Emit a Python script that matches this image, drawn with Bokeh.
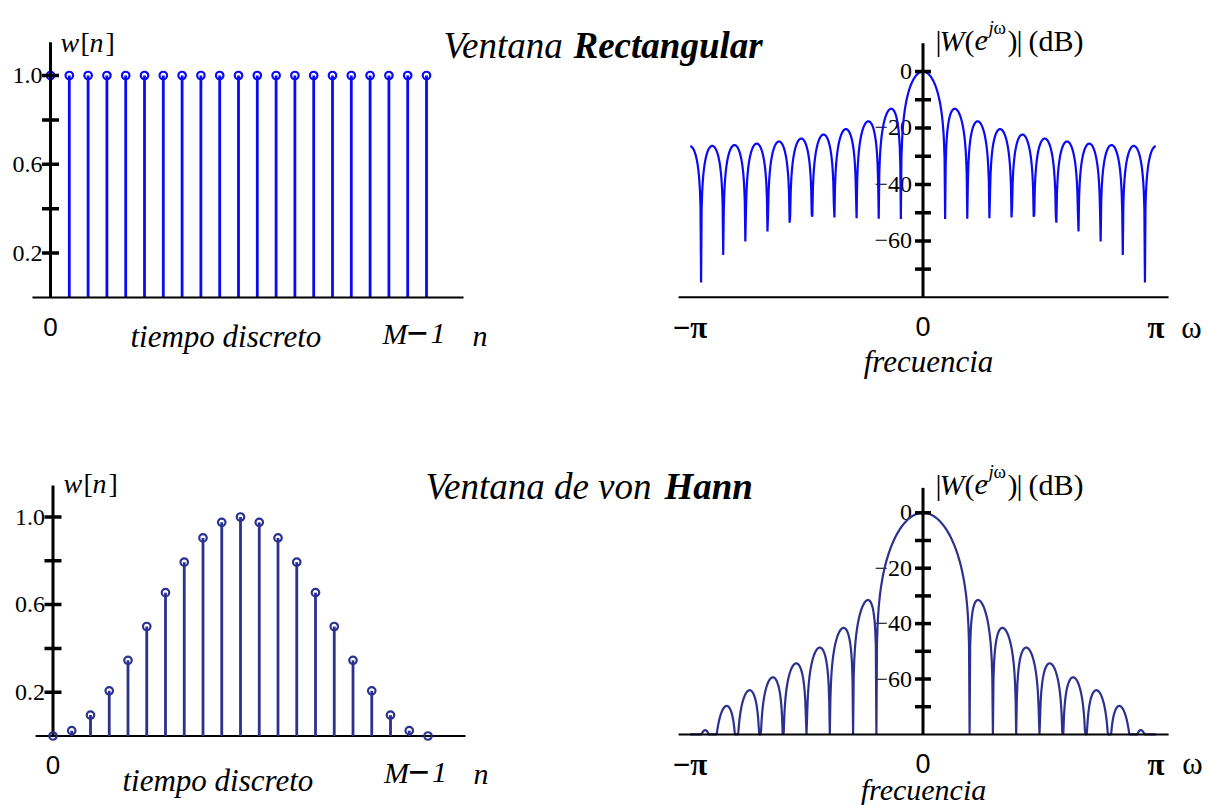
import numpy as np
from bokeh.plotting import figure
from bokeh.models import Range1d
from bokeh.core.properties import value
from bokeh.embed import file_html
from bokeh.resources import INLINE

# ---------------- data ----------------
n_samples = [0, 1, 2, 3, 4, 5, 6, 7, 8, 9, 10, 11, 12, 13, 14, 15, 16, 17, 18, 19, 20]
rect_window = [1.0, 1.0, 1.0, 1.0, 1.0, 1.0, 1.0, 1.0, 1.0, 1.0, 1.0,
               1.0, 1.0, 1.0, 1.0, 1.0, 1.0, 1.0, 1.0, 1.0, 1.0]
hann_window = [0.0, 0.0245, 0.0955, 0.2061, 0.3455, 0.5, 0.6545, 0.7939, 0.9045, 0.9755, 1.0,
               0.9755, 0.9045, 0.7939, 0.6545, 0.5, 0.3455, 0.2061, 0.0955, 0.0245, 0.0]

w_ticks = [0.2, 0.4, 0.6, 0.8, 1.0]
w_tick_labels = ["0.2", "", "0.6", "", "1.0"]
db_ticks = [0, -10, -20, -30, -40, -50, -60, -70]
db_tick_labels = ["0", "", "\u221220", "", "\u221240", "", "\u221260", ""]
n_ticks = [0, 20]
n_tick_labels = ["0", "M\u22121"]
omega_ticks = [-np.pi, 0.0, np.pi]
omega_tick_labels = ["\u2212\u03c0", "0", "\u03c0"]

# frequency grids on which the magnitude responses (DTFT of the windows) are evaluated
omega_rect = np.arange(-410, 411) * (2 * np.pi / 821)
omega_hann = np.arange(-400, 401) * (2 * np.pi / 800)


def spectrum_db(w, omega):
    w = np.asarray(w, dtype=float)
    n = np.asarray(n_samples, dtype=float)
    mag = np.abs(np.exp(-1j * np.outer(omega, n)) @ w) / w.sum()
    return 20 * np.log10(np.maximum(mag, 1e-9))


DB_FLOOR = -80.0
rect_db = np.maximum(spectrum_db(rect_window, omega_rect), DB_FLOOR)
hann_db = np.maximum(spectrum_db(hann_window, omega_hann), DB_FLOOR)

# ---------------- figure ----------------
W_PX, H_PX = 1208, 805
SERIF = "Liberation Serif"
SANS = "Liberation Sans"
RECT_COLOR = "#0A0AF5"
HANN_COLOR = "#2C308F"

p = figure(width=W_PX, height=H_PX, x_range=Range1d(0, W_PX), y_range=Range1d(H_PX, 0),
           output_backend="svg", toolbar_location=None, min_border=0,
           x_axis_location=None, y_axis_location=None, outline_line_color=None,
           background_fill_color="white", border_fill_color="white")
p.grid.visible = False


def xr(px0, s):
    return Range1d(-px0 / s, (W_PX - px0) / s)


def yr(py0, s):
    return Range1d((py0 - H_PX) / s, py0 / s)


PI_PX = 233.0 / np.pi
p.extra_x_ranges = {"A": xr(50, 18.8), "B": xr(922.5, PI_PX), "C": xr(52.5, 18.75), "D": xr(922.5, PI_PX)}
p.extra_y_ranges = {"A": yr(297, 222), "B": yr(71, 2.823), "C": yr(735.5, 219), "D": yr(512.3, 2.77)}


def txt(x, y, s, size, style="normal", font=SERIF, align="left", baseline="alphabetic",
        rng="default", xo=0, yo=0, color="black"):
    p.text(x=x if isinstance(x, list) else [x], y=y if isinstance(y, list) else [y],
           text=s if isinstance(s, list) else [s],
           text_font=value(font), text_font_size=f"{size}px", text_font_style=style,
           text_align=align, text_baseline=baseline, text_color=color,
           x_offset=xo, y_offset=yo, x_range_name=rng, y_range_name=rng)


def stem_panel(r, w, color, x_ext, y_top, axis_on_top):
    kw = dict(x_range_name=r, y_range_name=r)

    def axes():
        p.segment(x0=[x_ext[0]], y0=[0], x1=[x_ext[1]], y1=[0], line_color="black", line_width=2, **kw)
        p.segment(x0=[0], y0=[0], x1=[0], y1=[y_top], line_color="black", line_width=3, **kw)
        p.scatter(x=[0] * len(w_ticks), y=w_ticks, marker="dash", size=17, line_width=3.5,
                  line_color="black", **kw)

    if not axis_on_top:
        axes()
    p.segment(x0=n_samples, y0=[0] * len(n_samples), x1=n_samples, y1=w,
              line_color=color, line_width=2.8, **kw)
    p.scatter(x=n_samples, y=w, marker="circle", size=7.5, line_width=2.2,
              line_color=color, fill_color=None, **kw)
    if axis_on_top:
        axes()
    txt([0] * len(w_ticks), w_ticks, w_tick_labels, 24, align="right", baseline="middle", rng=r, xo=-8)
    # x tick labels: "0" and "M-1"
    txt(n_ticks[0], 0, n_tick_labels[0], 26, font=SANS, align="center", baseline="middle", rng=r, yo=29)
    txt(n_ticks[1], 0, "M", 30, style="italic", rng=r, xo=-44, yo=36)
    txt(n_ticks[1], 0, "\u2212", 38, style="bold", rng=r, xo=-20, yo=36)
    txt(n_ticks[1], 0, "1", 30, style="italic", rng=r, xo=4, yo=36)


def spectrum_panel(r, omega, db, color, y_top):
    kw = dict(x_range_name=r, y_range_name=r)
    txt([0] * len(db_ticks), db_ticks, db_tick_labels, 24, align="right", baseline="middle", rng=r, xo=-11)
    p.line(x=omega, y=db, line_color=color, line_width=2.2, **kw)
    p.segment(x0=[-1.049 * np.pi], y0=[DB_FLOOR], x1=[1.054 * np.pi], y1=[DB_FLOOR],
              line_color="black", line_width=2, **kw)
    p.segment(x0=[0], y0=[DB_FLOOR], x1=[0], y1=[y_top], line_color="black", line_width=3, **kw)
    p.scatter(x=[0] * len(db_ticks), y=db_ticks, marker="dash", size=16, line_width=3.5,
              line_color="black", **kw)
    for t, lab in zip(omega_ticks, omega_tick_labels):
        if lab == "0":
            txt(t, DB_FLOOR, lab, 27, font=SANS, align="center", baseline="middle", rng=r, yo=29)
        else:
            txt(t, DB_FLOOR, lab, 31, style="bold", align="center", baseline="middle", rng=r, yo=30)


def db_label(x, base):
    F = 30
    txt(x, base, "|", F)
    txt(x + 4, base, "W", F, style="italic")
    txt(x + 29, base, "(", F)
    txt(x + 39, base, "e", F, style="italic")
    txt(x + 53, base - 13, "j", 19, style="italic")
    txt(x + 58, base - 13, "\u03c9", 19)
    txt(x + 72, base, ")", F)
    txt(x + 81, base, "|", F)
    txt(x + 93, base, "(dB)", F)


def w_label(x, base):
    F = 28
    txt(x, base, "w", F, style="italic")
    txt(x + 20, base, "[", F)
    txt(x + 29, base, "n", F, style="italic")
    txt(x + 45, base, "]", F)


# ---- top row : rectangular window ----
stem_panel("A", rect_window, RECT_COLOR, (-0.96, 21.97), 1.15, True)
spectrum_panel("B", omega_rect, rect_db, RECT_COLOR, 10)
# ---- bottom row : von Hann window ----
stem_panel("C", hann_window, HANN_COLOR, (-0.93, 22.0), 1.144, False)
spectrum_panel("D", omega_hann, hann_db, HANN_COLOR, 9)

# ---- free texts (page coordinates) ----
txt(443, 45, "Ventana", 37, style="italic")
txt(573, 45, "Rectangular", 37, style="bold italic")
txt(425, 486, "Ventana de von", 37, style="italic")
txt(664, 486, "Hann", 37, style="bold italic")

w_label(60, 42)
w_label(63, 483)
db_label(935, 40)
db_label(935, 484)

txt(130, 336, "tiempo discreto", 31, style="italic")
txt(122, 780, "tiempo discreto", 31, style="italic")
txt(472, 335, "n", 30, style="italic")
txt(473, 773, "n", 30, style="italic")
txt(928, 361, "frecuencia", 31, style="italic", align="center")
txt(923, 789, "frecuencia", 30, style="italic", align="center")
txt(1191, 327, "\u03c9", 31, align="center", baseline="middle")
txt(1192, 763, "\u03c9", 31, align="center", baseline="middle")

open("out.html", "w").write(file_html(p, INLINE))
